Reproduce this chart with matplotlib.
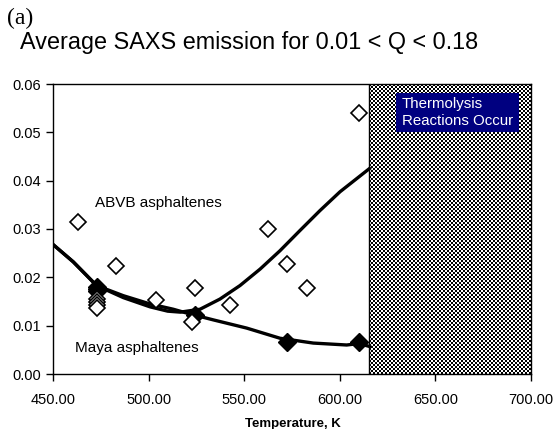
import numpy as np
import matplotlib
matplotlib.use("Agg")
import matplotlib.pyplot as plt
from matplotlib.patches import Rectangle

# ---- data ----
abvb_T = [463.2, 472.8, 472.8, 472.8, 472.8, 483.0, 503.9, 524.5, 522.9, 542.6,
          562.6, 572.4, 582.7, 610.2]
abvb_y = [0.0315, 0.0155, 0.0148, 0.0142, 0.0137, 0.0224, 0.0153, 0.0177, 0.0108, 0.0143,
          0.0300, 0.0228, 0.0177, 0.0541]

maya_T = [472.8, 472.8, 472.8, 524.5, 572.6, 610.2]
maya_y = [0.0181, 0.0176, 0.0171, 0.0123, 0.0067, 0.0067]

abvb_fit_T = [450.0, 460.6, 472.8, 486.8, 500.7, 510.0, 516.6, 526.9, 537.3, 547.8,
              558.3, 568.7, 579.2, 589.6, 600.1, 615.5]
abvb_fit_y = [0.0268, 0.0232, 0.0183, 0.0158, 0.0139, 0.0130, 0.0128, 0.0134, 0.0155, 0.0183,
              0.0217, 0.0255, 0.0297, 0.0338, 0.0377, 0.0425]

maya_fit_T = [450.0, 460.6, 472.8, 486.8, 500.7, 512.9, 520.0, 533.8, 551.3, 568.7,
              586.1, 603.6, 610.0, 615.5]
maya_fit_y = [0.0268, 0.0232, 0.0183, 0.0162, 0.0145, 0.0134, 0.0126, 0.0112, 0.0095, 0.0074,
              0.0064, 0.0060, 0.0063, 0.0057]

x_ticks = [450, 500, 550, 600, 650, 700]
y_ticks = [0.00, 0.01, 0.02, 0.03, 0.04, 0.05, 0.06]
thermo_start = 615.3

# ---- figure ----
fig = plt.figure(figsize=(5.55, 4.29), dpi=100)
ax = fig.add_axes([53/555, 1-374/429, 478/555, 290/429])
ax.set_xlim(450, 700)
ax.set_ylim(0, 0.06)

# checkerboard region
nx, ny = 81, 145
ii, jj = np.indices((ny, nx))
checker = ((ii + jj) % 2).astype(float)
ax.imshow(checker, cmap="gray", interpolation="nearest", aspect="auto",
          extent=[thermo_start, 700, 0, 0.06], zorder=1)
ax.axvline(thermo_start, color="black", lw=1.0, zorder=2)

# fit curves
ax.plot(abvb_fit_T, abvb_fit_y, color="black", lw=2.4, zorder=3,
        solid_joinstyle="round")
ax.plot(maya_fit_T, maya_fit_y, color="black", lw=2.4, zorder=3,
        solid_joinstyle="round")

# markers
ax.plot(maya_T, maya_y, "D", ms=9, mfc="black", mec="black", zorder=4)
ax.plot(abvb_T, abvb_y, "D", ms=8.5, mfc="white", mec="black", mew=1.2, zorder=5)

ax.set_xticks(x_ticks)
ax.set_xticklabels([f"{v:.2f}" for v in x_ticks])
ax.set_yticks(y_ticks)
ax.set_yticklabels([f"{v:.2f}" for v in y_ticks])
ax.tick_params(axis="x", direction="out", length=5, width=1, pad=9, labelsize=10.5)
ax.tick_params(axis="y", direction="out", length=5, width=1, pad=3.5, labelsize=10.5)
for lab in ax.get_xticklabels() + ax.get_yticklabels():
    lab.set_fontfamily("Liberation Sans")
for s in ax.spines.values():
    s.set_color("black")
    s.set_linewidth(1.0)

# annotations
ax.text((95-53)/478, (374-203.3)/290, "ABVB asphaltenes", transform=ax.transAxes,
        ha="left", va="center", fontsize=11, family="Liberation Sans", zorder=6)
ax.text((75-53)/478, (374-348)/290, "Maya asphaltenes", transform=ax.transAxes,
        ha="left", va="center", fontsize=11, family="Liberation Sans", zorder=6)

bx0, bx1 = (395.7-53)/478, (519-53)/478
by0, by1 = (374-131.7)/290, (374-92.7)/290
ax.add_patch(Rectangle((bx0, by0), bx1-bx0, by1-by0, transform=ax.transAxes,
                       facecolor="#000080", edgecolor="none", zorder=6))
ax.text((401.5-53)/478, (by0+by1)/2, "Thermolysis\nReactions Occur", transform=ax.transAxes,
        ha="left", va="center", color="white", fontsize=10.8, linespacing=1.25,
        family="Liberation Sans", zorder=7)

fig.text(292.5/555, 1-423.5/429, "Temperature, K", ha="center", va="center",
         fontsize=9.5, fontweight="bold", family="Liberation Sans")
fig.text(249/555, 1-42.5/429, "Average SAXS emission for 0.01 < Q < 0.18", ha="center",
         va="center", fontsize=16.8, family="Liberation Sans")
fig.text(7/555, 1-18.5/429, "(a)", ha="left", va="center", fontsize=17,
         family="Liberation Serif")

fig.savefig("out.png", dpi=100)
